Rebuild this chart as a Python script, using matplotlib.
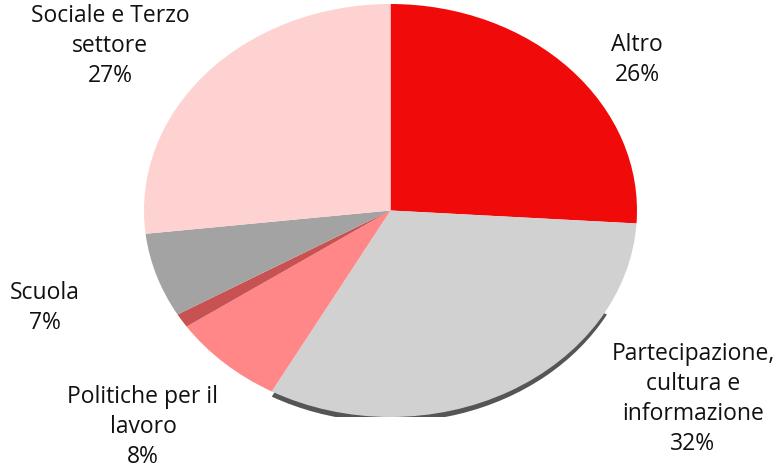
import matplotlib
matplotlib.use("Agg")
import matplotlib.pyplot as plt
from matplotlib.patches import Wedge

categories = ["Altro", "Partecipazione, cultura e informazione", "Politiche per il lavoro",
              "", "Scuola", "Sociale e Terzo settore"]
values = [26, 32, 7.5, 1.1, 6.6, 26.8]
label_lines = [["Altro", "26%"],
               ["Partecipazione,", "cultura e", "informazione", "32%"],
               ["Politiche per il", "lavoro", "8%"],
               None,
               ["Scuola", "7%"],
               ["Sociale e Terzo", "settore", "27%"]]
colors = ["#f00a0a", "#d1d1d1", "#ff8787", "#c85252", "#a3a3a3", "#ffd2d2"]

W, H = 778, 469
fig = plt.figure(figsize=(W / 100, H / 100), dpi=100)

# pie axes (elliptical pie)
left, right, top, bottom = 144, 637, 4, 417
pax = fig.add_axes([left / W, (H - bottom) / H, (right - left) / W, (bottom - top) / H])
tot = sum(values)
start = 90
angles = []
for v in values:
    end = start - 360 * v / tot
    angles.append((end, start))
    start = end
e, s = angles[1]
# 3D side/shadow under the "Partecipazione" slice
pax.add_patch(Wedge((0, -0.025), 1.0, e, s - 25, facecolor="#555555", edgecolor="none"))
wedges, _ = pax.pie(values, colors=colors, startangle=90, counterclock=False,
                    radius=1.0, wedgeprops=dict(edgecolor="none"))
pax.set_aspect("auto")
pax.set_xlim(-1, 1)
pax.set_ylim(-1, 1)
pax.axis("off")

# label overlay axes in pixel coordinates
tax = fig.add_axes([0, 0, 1, 1])
tax.set_xlim(0, W)
tax.set_ylim(H, 0)
tax.axis("off")
label_pos = [(637, 60), (693, 399), (143, 427), None, (45, 308), (110, 46)]
for lines, pos in zip(label_lines, label_pos):
    if lines is None:
        continue
    tax.text(pos[0], pos[1], "\n".join(lines), ha="center", va="center",
             fontsize=16.5, family="Open Sans", linespacing=1.34, color="#111111")

fig.savefig("out.png", dpi=100)
